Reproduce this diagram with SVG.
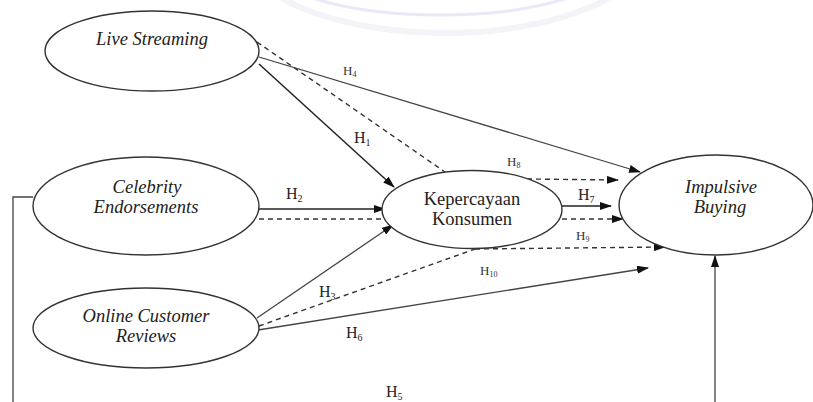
<svg xmlns="http://www.w3.org/2000/svg" width="813" height="402" viewBox="0 0 813 402">
<defs>
<marker id="arr" markerWidth="12" markerHeight="8" refX="11" refY="4" orient="auto" markerUnits="userSpaceOnUse">
<path d="M0,0 L12,4 L0,8 Z" fill="#111"/>
</marker>
<style>
.node{fill:#fff;stroke:#333;stroke-width:1.4}
text{font-family:'Liberation Serif','Times New Roman',serif}
.lbl{fill:#222;text-anchor:middle}
.it{font-style:italic;font-size:18.5px}
.rg{font-size:18.5px}
.solid{fill:none;stroke:#444;stroke-width:1.3}
.solidd{fill:none;stroke:#222;stroke-width:1.5}
.dash{fill:none;stroke:#333;stroke-width:1.4;stroke-dasharray:5 4}
.h{fill:#222;font-size:16px}
.hs{fill:#333;font-size:13px}
.sub{font-size:10px}
.subs{font-size:8px}
</style>
</defs>
<rect width="813" height="402" fill="#fff"/>
<g id="watermark" fill="none">
<ellipse cx="445" cy="-55" rx="205" ry="88" stroke="#f4f4f8" stroke-width="6"/>
<ellipse cx="440" cy="-50" rx="190" ry="65" stroke="#e8e8f8" stroke-width="3"/>
</g>
<g id="connectors">
<path class="dash" d="M257,42 L445,172"/>
<path class="solid" d="M259,57 L640,172" marker-end="url(#arr)"/>
<path class="solidd" d="M259,64 L394,187" marker-end="url(#arr)"/>
<path class="solidd" d="M259,209 L385,209" marker-end="url(#arr)"/>
<path class="dash" d="M259,219 L387,219"/>
<path class="solid" d="M257,318 L393,225" marker-end="url(#arr)"/>
<path class="dash" d="M259,326 L475,249"/>
<path class="dash" d="M475,249 L665,247" marker-end="url(#arr)"/>
<path class="solid" d="M258,330 L648,268" marker-end="url(#arr)"/>
<path class="dash" d="M527,179 L618,180" marker-end="url(#arr)"/>
<path class="solidd" d="M562,206 L611,206" marker-end="url(#arr)"/>
<path class="dash" d="M562,219 L623,219" marker-end="url(#arr)"/>
<path class="solid" d="M33,197 H13 V410 H715 V256" marker-end="url(#arr)"/>
</g>
<g id="labels">
<text class="hs" x="343" y="75">H<tspan class="subs" dy="2">4</tspan></text>
<text class="h" x="354" y="143">H<tspan class="sub" dy="3">1</tspan></text>
<text class="h" x="286" y="199">H<tspan class="sub" dy="3">2</tspan></text>
<text class="hs" x="507" y="166">H<tspan class="subs" dy="2">8</tspan></text>
<text class="h" x="578" y="200">H<tspan class="sub" dy="3">7</tspan></text>
<text class="hs" x="576" y="240">H<tspan class="subs" dy="2">9</tspan></text>
<text class="hs" x="480" y="275">H<tspan class="subs" dy="2">10</tspan></text>
<text class="h" x="319" y="297">H<tspan class="sub" dy="3">3</tspan></text>
<text class="h" x="346" y="338">H<tspan class="sub" dy="3">6</tspan></text>
<text class="h" x="386" y="397">H<tspan class="sub" dy="3">5</tspan></text>
</g>
<g id="live-streaming">
<ellipse class="node" cx="152" cy="51" rx="107" ry="40"/>
<text class="lbl it" x="152" y="45">Live Streaming</text>
</g>
<g id="celebrity-endorsements">
<ellipse class="node" cx="146" cy="206" rx="113" ry="49"/>
<text class="lbl it" x="147" y="193">Celebrity</text>
<text class="lbl it" x="146" y="213">Endorsements</text>
</g>
<g id="online-customer-reviews">
<ellipse class="node" cx="146" cy="328" rx="113" ry="40"/>
<text class="lbl it" x="146" y="322">Online Customer</text>
<text class="lbl it" x="146" y="342">Reviews</text>
</g>
<g id="kepercayaan-konsumen">
<ellipse class="node" cx="472" cy="209.5" rx="90" ry="39"/>
<text class="lbl rg" x="472" y="205">Kepercayaan</text>
<text class="lbl rg" x="472" y="225">Konsumen</text>
</g>
<g id="impulsive-buying">
<ellipse class="node" cx="716" cy="205" rx="97" ry="50"/>
<text class="lbl it" x="721" y="193">Impulsive</text>
<text class="lbl it" x="720" y="213">Buying</text>
</g>
</svg>
